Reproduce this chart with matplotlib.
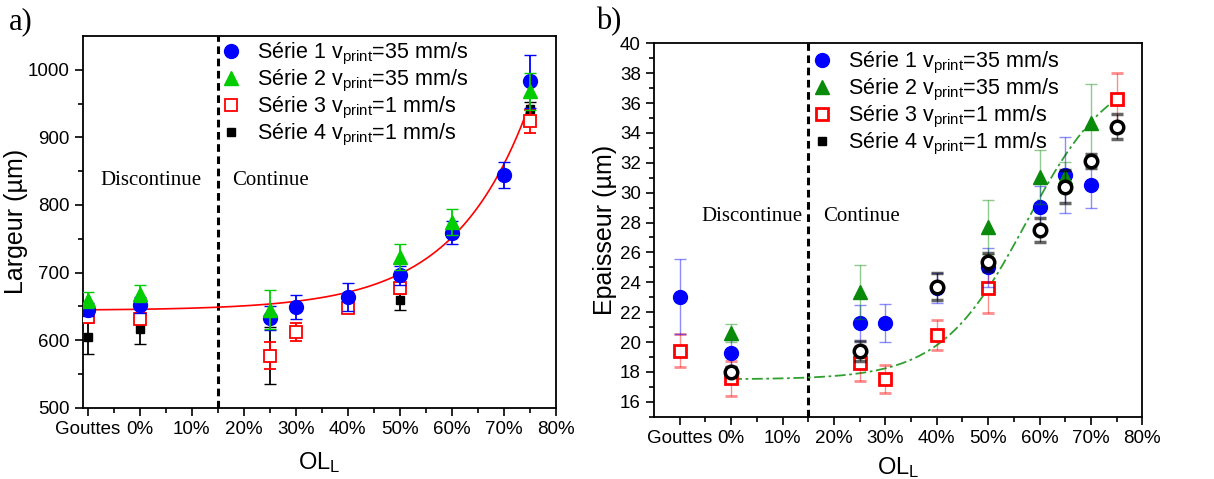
import numpy as np
import matplotlib
matplotlib.use("Agg")
import matplotlib.pyplot as plt
from matplotlib.lines import Line2D

plt.rcParams['font.family'] = ['Liberation Sans', 'DejaVu Sans']
plt.rcParams['mathtext.fontset'] = 'custom'
plt.rcParams['mathtext.rm'] = 'Liberation Sans'
plt.rcParams['mathtext.it'] = 'Liberation Sans'

# x position: "Gouttes" is placed at -10 on the OL_L axis
tick_pos = [-10, 0, 10, 20, 30, 40, 50, 60, 70, 80]
tick_labels = ['Gouttes', '0%', '10%', '20%', '30%', '40%', '50%', '60%', '70%', '80%']
labels = ['Série 1 v$_{print}$=35 mm/s', 'Série 2 v$_{print}$=35 mm/s',
          'Série 3 v$_{print}$=1 mm/s', 'Série 4 v$_{print}$=1 mm/s']

# ---- a) Largeur ----
a_x1 = [-10, 0, 25, 30, 40, 50, 60, 70, 75]
a_y1 = [645, 652, 633, 649, 664, 696, 759, 844, 983]
a_e1 = [10, 12, 18, 18, 21, 14, 17, 19, 39]
a_x2 = [-10, 0, 25, 50, 60, 75]
a_y2 = [659, 669, 645, 723, 775, 968]
a_e2 = [12, 12, 29, 19, 19, 27]
a_x3 = [-10, 0, 25, 30, 40, 50, 75]
a_y3 = [634, 632, 577, 612, 648, 677, 924]
a_e3 = [8, 8, 20, 13, 6, 8, 17]
a_x4 = [-10, 0, 25, 50, 75]
a_y4 = [604, 616, 577, 660, 942]
a_e4 = [24, 22, 42, 16, 10]
# exponential fit y = y0 + A*exp(x/t)
a_fit_y0, a_fit_A, a_fit_t = 644.0, 1.67, 14.4

# ---- b) Epaisseur ----
b_x1 = [-10, 0, 25, 30, 40, 50, 60, 65, 70]
b_y1 = [23.04, 19.24, 21.25, 21.25, 23.6, 25.0, 29.02, 31.18, 30.5]
b_e1 = [2.5, 0.9, 1.2, 1.27, 1.0, 1.3, 1.4, 2.55, 1.5]
b_x2 = [0, 25, 50, 60, 65, 70]
b_y2 = [20.58, 23.37, 27.72, 31.07, 31.07, 34.69]
b_e2 = [0.6, 1.8, 1.8, 1.8, 1.0, 2.56]
b_x3 = [-10, 0, 25, 30, 40, 50, 75]
b_y3 = [19.42, 17.57, 18.57, 17.52, 20.47, 23.59, 36.25]
b_e3 = [1.12, 1.16, 1.18, 0.96, 1.0, 1.67, 1.74]
b_x4 = [0, 25, 40, 50, 60, 65, 70, 75]
b_y4 = [18.01, 19.4, 23.71, 25.33, 27.5, 30.4, 32.12, 34.42]
b_e4 = [0.3, 0.7, 0.9, 0.6, 0.8, 1.1, 0.5, 0.85]
# Boltzmann fit
b_fit_A1, b_fit_A2, b_fit_x0, b_fit_dx = 17.5, 38.5, 57.4, 8.28

fig = plt.figure(figsize=(12.14, 4.79), dpi=100)
ax1 = fig.add_axes([0.0681, 0.1488, 0.3896, 0.776])
ax2 = fig.add_axes([0.5387, 0.130, 0.4023, 0.7796])


def style_axis(ax):
    ax.set_xticks(tick_pos)
    ax.set_xticklabels(tick_labels)
    ax.set_xticks([-5, 5, 15, 25, 35, 45, 55, 65, 75], minor=True)
    ax.tick_params(which='major', direction='out', length=6, width=1.2, labelsize=13.5)
    ax.tick_params(which='minor', direction='out', length=3.5, width=1.2)
    for s in ax.spines.values():
        s.set_linewidth(1.3)
    ax.axvline(15, color='black', linestyle=(0, (2.5, 1.5)), linewidth=2.2, zorder=1)


# panel a
style_axis(ax1)
ax1.set_xlabel('OL$_L$', fontsize=17, labelpad=9)
ax1.set_xlim(-11, 80)
ax1.set_ylim(500, 1050)
ax1.set_yticks(np.arange(500, 1001, 100))
ax1.set_yticks(np.arange(550, 1050, 100), minor=True)
ax1.set_ylabel('Largeur (µm)', fontsize=18, labelpad=0)

xf = np.linspace(-10, 75, 200)
ax1.plot(xf, a_fit_y0 + a_fit_A * np.exp(xf / a_fit_t), color='red', linewidth=1.2, zorder=2)

ax1.errorbar(a_x4, a_y4, yerr=a_e4, fmt='s', color='black', ms=6, capsize=4, elinewidth=1.3, zorder=3)
ax1.errorbar(a_x3, a_y3, yerr=a_e3, fmt='s', color='red', mfc='white', mec='red', mew=1.3, ms=9,
             capsize=4, elinewidth=1.3, zorder=4)
ax1.errorbar(a_x1, a_y1, yerr=a_e1, fmt='o', color='blue', ms=10, capsize=4, elinewidth=1.3, zorder=5)
ax1.errorbar(a_x2, a_y2, yerr=a_e2, fmt='^', color='#00cc00', ms=10, capsize=4, elinewidth=1.3, zorder=6)

ax1.text(2.2, 836, 'Discontinue', family='Liberation Serif', fontsize=15, ha='center', va='center')
ax1.text(25.2, 836, 'Continue', family='Liberation Serif', fontsize=15, ha='center', va='center')

h1 = [Line2D([], [], marker='o', color='blue', ls='none', ms=10),
      Line2D([], [], marker='^', color='#00cc00', ls='none', ms=10),
      Line2D([], [], marker='s', mfc='white', mec='red', mew=1.3, ls='none', ms=9),
      Line2D([], [], marker='s', color='black', ls='none', ms=6)]
ax1.legend(h1, labels, loc='upper left', bbox_to_anchor=(0.263, 1.022), frameon=False, fontsize=15.5,
           handlelength=1.0, handletextpad=0.7, labelspacing=0.05, borderaxespad=0.2)
fig.text(0.007, 0.955, 'a)', family='Liberation Serif', fontsize=22, va='center')

# panel b
style_axis(ax2)
ax2.set_xlabel('OL$_L$', fontsize=17, labelpad=6)
ax2.set_xlim(-15, 80)
ax2.set_ylim(15, 40)
ax2.set_yticks(np.arange(16, 41, 2))
ax2.set_yticks(np.arange(15, 40, 1), minor=True)
ax2.set_ylabel('Epaisseur (µm)', fontsize=18, labelpad=2)

xf2 = np.linspace(0, 75, 200)
ax2.plot(xf2, b_fit_A2 + (b_fit_A1 - b_fit_A2) / (1 + np.exp((xf2 - b_fit_x0) / b_fit_dx)),
         color='#30a030', linestyle=(0, (6, 2, 1.5, 2)), linewidth=1.3, zorder=2)

ax2.errorbar(b_x3, b_y3, yerr=b_e3, fmt='s', color='red', mfc='white', mec='red', mew=2, ms=8,
             ecolor=(1, 0, 0, 0.45), capsize=4, elinewidth=1, zorder=3)
ax2.errorbar(b_x1, b_y1, yerr=b_e1, fmt='o', color='blue', ms=10,
             ecolor=(0, 0, 1, 0.45), capsize=4, elinewidth=1, zorder=4)
ax2.errorbar(b_x2, b_y2, yerr=b_e2, fmt='^', color='#0a8a0a', ms=10,
             ecolor=(0.04, 0.54, 0.04, 0.45), capsize=4, elinewidth=1, zorder=5)
ax2.errorbar(b_x4, b_y4, yerr=b_e4, fmt='o', color='black', mfc='white', mec='black', mew=2.5, ms=9,
             ecolor=(0, 0, 0, 0.6), capsize=4, elinewidth=1, zorder=6)

ax2.text(4.0, 28.4, 'Discontinue', family='Liberation Serif', fontsize=15, ha='center', va='center')
ax2.text(25.4, 28.4, 'Continue', family='Liberation Serif', fontsize=15, ha='center', va='center')

h2 = [Line2D([], [], marker='o', color='blue', ls='none', ms=10),
      Line2D([], [], marker='^', color='#0a8a0a', ls='none', ms=10),
      Line2D([], [], marker='s', mfc='white', mec='red', mew=2, ls='none', ms=8),
      Line2D([], [], marker='s', color='black', ls='none', ms=6)]
ax2.legend(h2, labels, loc='upper left', bbox_to_anchor=(0.296, 1.017), frameon=False, fontsize=15.5,
           handlelength=1.0, handletextpad=0.7, labelspacing=0.05, borderaxespad=0.2)
fig.text(0.491, 0.955, 'b)', family='Liberation Serif', fontsize=22, va='center')

fig.savefig('out.png', dpi=100)
